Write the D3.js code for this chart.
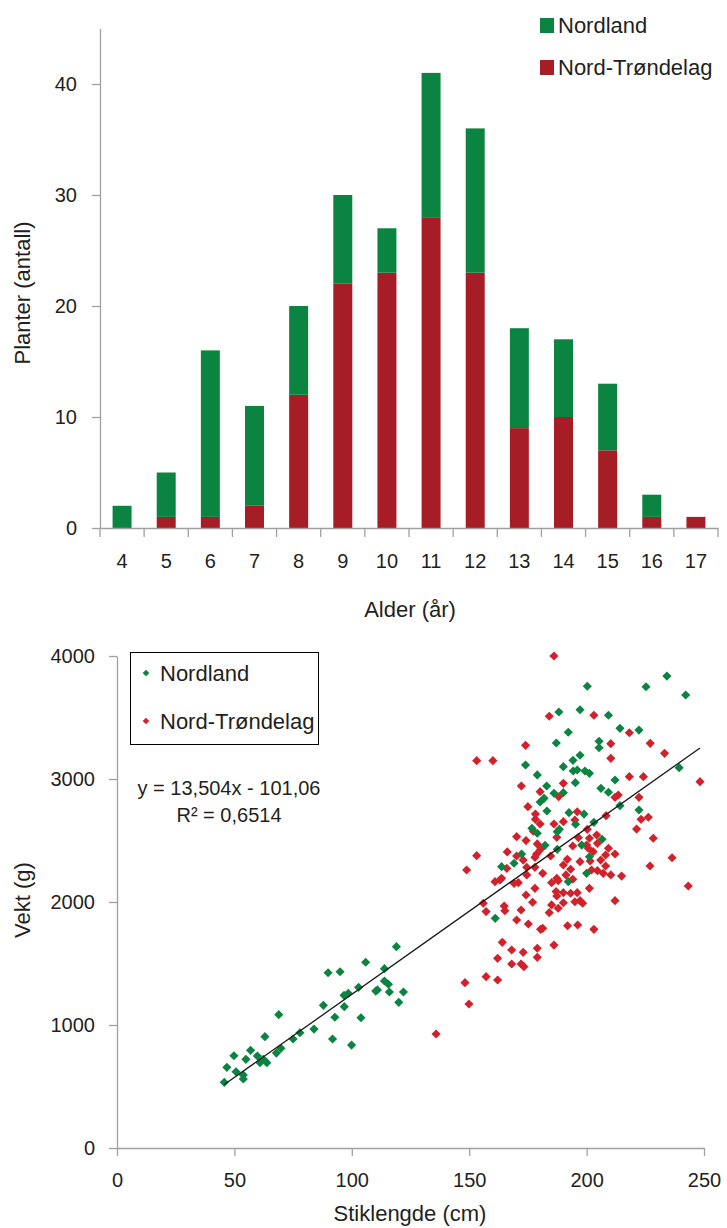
<!DOCTYPE html>
<html>
<head>
<meta charset="utf-8">
<script src="https://cdn.jsdelivr.net/npm/d3@7"></script>
<style>
  body { margin: 0; background: #fff; }
  svg { display: block; font-family: "Liberation Sans", Arial, sans-serif; }
  .tick text { fill: #231f20; }
</style>
</head>
<body>
<svg id="chart" width="727" height="1228"></svg>
<script>
// ---- Age distribution (stacked bars) ----
const ages = ["4", "5", "6", "7", "8", "9", "10", "11", "12", "13", "14", "15", "16", "17"];
const nordTrondelagCount = [0, 1, 1, 2, 12, 22, 23, 28, 23, 9, 10, 7, 1, 1];
const nordlandCount = [2, 4, 15, 9, 8, 8, 4, 13, 13, 9, 7, 6, 2, 0];
const countTicks = [0, 10, 20, 30, 40];

// ---- Stem length vs weight (scatter) ----
const nordlandPoints = [
  [45.7, 534], [46.8, 656], [49.8, 750], [50.7, 620], [53.8, 593], [53.8, 561], [54.9, 721],
  [56.9, 794], [59.8, 748], [60.9, 694], [62.3, 721], [63.8, 694], [63.0, 905], [68.9, 1084],
  [67.9, 772], [69.8, 810], [75.0, 886], [77.9, 937], [83.9, 967], [87.9, 1160], [92.8, 1063],
  [91.8, 886], [96.8, 1149], [99.9, 837], [103.9, 1059], [120.0, 1184], [89.9, 1425], [95.0, 1433],
  [105.9, 1510], [96.7, 1241], [98.5, 1258], [102.9, 1306], [113.9, 1458], [113.9, 1358],
  [115.6, 1331], [110.2, 1276], [110.9, 1285], [116.0, 1268], [122.0, 1268], [119.0, 1637],
  [188.2, 3545], [192.2, 3380], [187.1, 3293], [174.0, 3114], [190.1, 3100], [200.3, 3754],
  [225.3, 3750], [234.2, 3837], [242.2, 3683], [197.2, 3563], [209.3, 3518], [214.2, 3412],
  [222.3, 3398], [205.3, 3307], [205.3, 3254], [197.2, 3193], [194.2, 3152], [239.4, 3092],
  [194.3, 3065], [196.0, 3073], [199.3, 3065], [201.2, 3046], [179.0, 3033], [183.0, 2943],
  [186.1, 2884], [190.1, 2889], [181.9, 2843], [180.2, 2813], [183.1, 2740], [192.5, 2726],
  [176.7, 2599], [179.0, 2559], [187.5, 2572], [188.4, 2591], [182.3, 2461], [172.3, 2390],
  [187.5, 2428], [169.1, 2315], [163.8, 2287], [212.1, 2992], [195.2, 2970], [206.1, 2924],
  [209.3, 2892], [214.2, 2783], [222.3, 2748], [198.9, 2715], [195.3, 2632], [203.1, 2648],
  [206.6, 2510], [197.9, 2463], [201.2, 2368], [200.0, 2233], [192.2, 2165], [161.1, 1867]
];
const nordTrondelagPoints = [
  [186.1, 4000], [184.1, 3510], [174.0, 3274], [153.2, 3149], [160.1, 3149], [203.1, 3518],
  [218.2, 3376], [210.3, 3287], [227.1, 3290], [233.2, 3209], [210.3, 3168], [172.2, 2943],
  [180.2, 2897], [188.1, 2856], [175.0, 2775], [190.1, 2965], [178.2, 2715], [178.2, 2672],
  [180.2, 2634], [186.1, 2634], [190.1, 2653], [177.3, 2575], [187.3, 2526], [170.2, 2531],
  [174.2, 2499], [179.0, 2472], [180.4, 2428], [178.7, 2390], [166.2, 2407], [170.2, 2374],
  [178.0, 2363], [184.7, 2374], [153.2, 2377], [173.0, 2341], [166.0, 2274], [174.5, 2282],
  [178.0, 2282], [148.9, 2260], [190.1, 2301], [191.8, 2347], [181.3, 2233], [187.3, 2193],
  [174.5, 2220], [163.8, 2193], [191.2, 2220], [218.2, 3019], [224.2, 3019], [248.3, 2978],
  [212.1, 2851], [213.5, 2870], [222.3, 2851], [223.2, 2672], [226.3, 2689], [221.3, 2593],
  [228.4, 2518], [236.4, 2360], [227.0, 2293], [196.0, 2734], [195.0, 2667], [208.3, 2702],
  [200.3, 2591], [204.3, 2545], [196.5, 2523], [201.2, 2518], [194.1, 2455], [200.0, 2463],
  [200.7, 2437], [204.6, 2477], [209.3, 2437], [202.8, 2409], [208.1, 2382], [212.1, 2390],
  [197.2, 2328], [201.5, 2333], [206.0, 2341], [193.2, 2266], [202.1, 2260], [204.6, 2255],
  [208.1, 2293], [207.1, 2233], [210.3, 2220], [214.9, 2211], [161.0, 2165], [163.1, 2179],
  [169.1, 2152], [170.9, 2157], [178.0, 2111], [185.1, 2157], [187.9, 2173], [174.2, 2057],
  [187.0, 2085], [187.3, 2049], [190.1, 2076], [177.0, 1998], [156.0, 1990], [157.2, 1922],
  [164.9, 1967], [165.2, 1929], [172.1, 1935], [170.2, 1854], [175.2, 1821], [185.1, 1976],
  [187.9, 1949], [184.1, 1913], [190.1, 1994], [180.4, 1778], [181.3, 1786], [191.9, 1807],
  [164.1, 1672], [168.1, 1610], [173.0, 1591], [179.0, 1624], [186.1, 1650], [179.0, 1550],
  [162.1, 1542], [168.1, 1496], [172.1, 1496], [173.3, 1474], [157.2, 1393], [162.1, 1366],
  [148.2, 1344], [149.9, 1171], [135.9, 927], [243.3, 2130], [194.1, 2185], [201.2, 2111],
  [193.2, 2071], [196.0, 2076], [195.0, 2002], [197.2, 2011], [198.3, 1990], [212.1, 2011],
  [196.2, 1813], [203.1, 1778]
];
const lengthTicks = [0, 50, 100, 150, 200, 250];
const weightTicks = [0, 1000, 2000, 3000, 4000];
const trendSlope = 13.504;
const trendIntercept = -101.06;
const trendLabel = "y = 13,504x - 101,06";
const r2Label = "R² = 0,6514";
const seriesNames = ["Nordland", "Nord-Trøndelag"];

const textColor = "#231f20";
const axisColor = "#a0a0a0";
const barGreen = "#0b8442", barRed = "#a61d25";
const dotGreen = "#0b8442", dotRed = "#d1222b";

const svg = d3.select("#chart");

// ===================== Bar chart =====================
const barG = svg.append("g");
const x = d3.scaleBand().domain(ages).range([100, 718]).paddingInner(0.57).paddingOuter(0.285);
const y = d3.scaleLinear().domain([0, 45]).range([528, 28.5]);

const stackRows = ages.map((a, i) => ({ age: a, "Nord-Trøndelag": nordTrondelagCount[i], "Nordland": nordlandCount[i] }));
const stacked = d3.stack().keys(["Nord-Trøndelag", "Nordland"])(stackRows);
const barColor = { "Nord-Trøndelag": barRed, "Nordland": barGreen };

barG.selectAll("g.layer").data(stacked).join("g")
  .attr("class", "layer")
  .attr("fill", d => barColor[d.key])
  .selectAll("rect").data(d => d.filter(s => s[1] > s[0])).join("rect")
  .attr("x", d => x(d.data.age))
  .attr("width", x.bandwidth())
  .attr("y", d => y(d[1]))
  .attr("height", d => y(d[0]) - y(d[1]));

// y axis
const yAxis = barG.append("g").attr("transform", "translate(100,0)")
  .call(d3.axisLeft(y).tickValues(countTicks).tickSize(8).tickSizeOuter(0).tickPadding(15));
yAxis.select(".domain").attr("stroke", axisColor).attr("stroke-width", 1.3);
yAxis.selectAll(".tick line").attr("stroke", axisColor).attr("stroke-width", 1.3);
yAxis.selectAll(".tick text").attr("font-size", 20);

// x axis (labels centred on bands, ticks on band boundaries)
const xAxis = barG.append("g").attr("transform", "translate(0,528)")
  .call(d3.axisBottom(x).tickSize(0).tickPadding(26));
xAxis.select(".domain").attr("stroke", axisColor).attr("stroke-width", 1.3);
xAxis.selectAll(".tick text").attr("font-size", 20);
xAxis.selectAll("line.boundary").data(d3.range(ages.length + 1)).join("line")
  .attr("class", "boundary")
  .attr("x1", i => x.range()[0] + i * x.step())
  .attr("x2", i => x.range()[0] + i * x.step())
  .attr("y1", 0).attr("y2", 9)
  .attr("stroke", axisColor).attr("stroke-width", 1.3);

barG.append("text").attr("x", 410).attr("y", 617).attr("text-anchor", "middle")
  .attr("font-size", 22).attr("fill", textColor).text("Alder (år)");
barG.append("text").attr("transform", "translate(30,293) rotate(-90)").attr("text-anchor", "middle")
  .attr("font-size", 22).attr("fill", textColor).text("Planter (antall)");

// legend
const barLegend = barG.append("g").attr("transform", "translate(540,18)");
[["Nordland", barGreen], ["Nord-Trøndelag", barRed]].forEach(([name, c], i) => {
  const row = barLegend.append("g").attr("transform", `translate(0,${i * 42})`);
  row.append("rect").attr("width", 14).attr("height", 15).attr("fill", c);
  row.append("text").attr("x", 18).attr("y", 15).attr("font-size", 22).attr("fill", textColor).text(name);
});

// ===================== Scatter chart =====================
const scatterG = svg.append("g");
const xs = d3.scaleLinear().domain([0, 250]).range([117, 704]);
const ys = d3.scaleLinear().domain([0, 4000]).range([1148, 656]);

const sxAxis = scatterG.append("g").attr("transform", "translate(0,1148)")
  .call(d3.axisBottom(xs).tickValues(lengthTicks).tickFormat(d3.format("d"))
    .tickSize(8).tickSizeOuter(0).tickPadding(17));
const syAxis = scatterG.append("g").attr("transform", "translate(117,0)")
  .call(d3.axisLeft(ys).tickValues(weightTicks).tickFormat(d3.format("d"))
    .tickSize(8).tickSizeOuter(0).tickPadding(14));
[sxAxis, syAxis].forEach(a => {
  a.select(".domain").attr("stroke", axisColor).attr("stroke-width", 1.3);
  a.selectAll(".tick line").attr("stroke", axisColor).attr("stroke-width", 1.3);
  a.selectAll(".tick text").attr("font-size", 20);
});

const diamond = d3.symbol().type(d3.symbolSquare).size(42)();
const plotSeries = (pts, color) => scatterG.append("g").selectAll("path").data(pts).join("path")
  .attr("d", diamond)
  .attr("transform", d => `translate(${xs(d[0])},${ys(d[1])}) rotate(45)`)
  .attr("fill", color);
plotSeries(nordTrondelagPoints, dotRed);
plotSeries(nordlandPoints, dotGreen);

// linear trend line over the range of all points
const allX = nordlandPoints.concat(nordTrondelagPoints).map(d => d[0]);
const [xMin, xMax] = d3.extent(allX);
scatterG.append("line")
  .attr("x1", xs(xMin)).attr("y1", ys(trendSlope * xMin + trendIntercept))
  .attr("x2", xs(xMax)).attr("y2", ys(trendSlope * xMax + trendIntercept))
  .attr("stroke", "#1a1a1a").attr("stroke-width", 1.3);

scatterG.append("text").attr("x", 229).attr("y", 795).attr("text-anchor", "middle")
  .attr("font-size", 20).attr("fill", textColor).text(trendLabel);
scatterG.append("text").attr("x", 229).attr("y", 822).attr("text-anchor", "middle")
  .attr("font-size", 20).attr("fill", textColor).text(r2Label);

// legend box
const sLegend = scatterG.append("g");
sLegend.append("rect").attr("x", 130.5).attr("y", 652.5).attr("width", 188).attr("height", 92)
  .attr("fill", "#fff").attr("stroke", "#000").attr("stroke-width", 1);
const smallDiamond = d3.symbol().type(d3.symbolSquare).size(22)();
[[seriesNames[0], dotGreen, 673], [seriesNames[1], dotRed, 721]].forEach(([name, c, cy]) => {
  sLegend.append("path").attr("d", smallDiamond)
    .attr("transform", `translate(146,${cy}) rotate(45)`).attr("fill", c);
  sLegend.append("text").attr("x", 160).attr("y", cy + 8).attr("font-size", 22)
    .attr("fill", textColor).text(name);
});

scatterG.append("text").attr("x", 410).attr("y", 1221).attr("text-anchor", "middle")
  .attr("font-size", 22).attr("fill", textColor).text("Stiklengde (cm)");
scatterG.append("text").attr("transform", "translate(30,900) rotate(-90)").attr("text-anchor", "middle")
  .attr("font-size", 22).attr("fill", textColor).text("Vekt (g)");
</script>
</body>
</html>
